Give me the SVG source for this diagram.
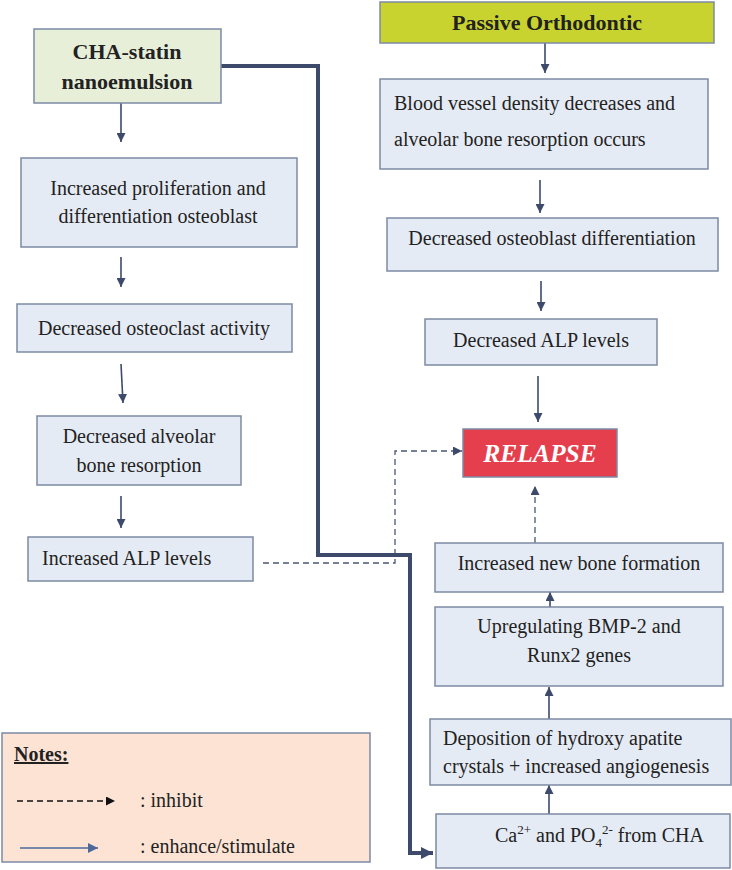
<svg xmlns="http://www.w3.org/2000/svg" width="732" height="870" viewBox="0 0 732 870">
<style>
.box{fill:#e5ebf4;stroke:#7d8aa5;stroke-width:1.5}
text{font-family:'Liberation Serif','Times New Roman',Tinos,'DejaVu Serif',serif;font-size:20px;fill:#222}
text.h{font-size:22px}
text.rel{font-size:25.5px;font-style:italic;fill:#fff}
.b{font-weight:bold}
.c{text-anchor:middle}
.s{font-size:13px}
.ar{fill:none;stroke:#3d4a6b;stroke-width:1.6}
.dash{fill:none;stroke:#4a5676;stroke-width:1.3;stroke-dasharray:6,4}
</style>
<defs>
<marker id="ah" viewBox="0 0 10 10" refX="10" refY="5" markerWidth="9" markerHeight="9" markerUnits="userSpaceOnUse" orient="auto">
<path d="M0,0 L10,5 L0,10 z" fill="#3d4a6b"/>
</marker>
<marker id="ahB" viewBox="0 0 10 10" refX="10" refY="5" markerWidth="12" markerHeight="12" markerUnits="userSpaceOnUse" orient="auto">
<path d="M0,0 L10,5 L0,10 z" fill="#3d4a6b"/>
</marker>
<marker id="ahK" viewBox="0 0 10 10" refX="10" refY="5" markerWidth="9" markerHeight="9" markerUnits="userSpaceOnUse" orient="auto">
<path d="M0,0 L10,5 L0,10 z" fill="#111"/>
</marker>
<marker id="ahL" viewBox="0 0 10 10" refX="10" refY="5" markerWidth="10" markerHeight="10" markerUnits="userSpaceOnUse" orient="auto">
<path d="M0,0 L10,5 L0,10 z" fill="#4d6a9c"/>
</marker>
</defs>
<rect width="732" height="870" fill="#fff"/>

<g id="connectors">
<path class="ar" d="M121,103 V142" marker-end="url(#ah)"/>
<path class="ar" d="M121,257 V287" marker-end="url(#ah)"/>
<path class="ar" d="M121,364 L123,403" marker-end="url(#ah)"/>
<path class="ar" d="M121,496 V528" marker-end="url(#ah)"/>
<path class="ar" d="M545,43 V73" marker-end="url(#ah)"/>
<path class="ar" d="M540,180 V213" marker-end="url(#ah)"/>
<path class="ar" d="M541,281 V311" marker-end="url(#ah)"/>
<path class="ar" d="M538,376 V422" marker-end="url(#ah)"/>
<path class="ar" d="M550,607 V592" marker-end="url(#ah)"/>
<path class="ar" d="M549,719 V687" marker-end="url(#ah)"/>
<path class="ar" d="M549,814 V785" marker-end="url(#ah)"/>
<path class="dash" d="M263,563 H395 V451 H462" marker-end="url(#ah)"/>
<path class="dash" d="M535,543 V486" marker-end="url(#ah)"/>
<path fill="none" stroke="#3d4a6b" stroke-width="4" d="M221,66 H318 V555 H410 V853 H433" marker-end="url(#ahB)"/>
</g>

<g id="cha">
<rect x="34" y="29" width="187" height="74" fill="#e7efd9" stroke="#7d8aa5" stroke-width="1.5"/>
<text class="h b c" x="127" y="59">CHA-statin</text>
<text class="h b c" x="127" y="89">nanoemulsion</text>
</g>
<g id="prolif">
<rect class="box" x="21" y="158" width="276" height="89"/>
<text class="c" x="158" y="195">Increased proliferation and</text>
<text class="c" x="158" y="223">differentiation osteoblast</text>
</g>
<g id="osteoclast">
<rect class="box" x="17" y="304" width="275" height="48"/>
<text class="c" x="154" y="335">Decreased osteoclast activity</text>
</g>
<g id="resorption">
<rect class="box" x="37" y="416" width="204" height="69"/>
<text class="c" x="139" y="443">Decreased alveolar</text>
<text class="c" x="139" y="472">bone resorption</text>
</g>
<g id="incALP">
<rect class="box" x="28" y="537" width="225" height="44"/>
<text x="42" y="565">Increased ALP levels</text>
</g>

<g id="passive">
<rect x="380" y="2" width="334" height="41" fill="#c8d32f" stroke="#7d8aa5" stroke-width="1.5"/>
<text class="h b c" x="547" y="30">Passive Orthodontic</text>
</g>
<g id="blood">
<rect class="box" x="380" y="79" width="328" height="90"/>
<text x="394" y="110">Blood vessel density decreases and</text>
<text x="394" y="146">alveolar bone resorption occurs</text>
</g>
<g id="decOsteo">
<rect class="box" x="387" y="218" width="331" height="53"/>
<text class="c" x="552" y="245">Decreased osteoblast differentiation</text>
</g>
<g id="decALP">
<rect class="box" x="425" y="319" width="232" height="46"/>
<text class="c" x="541" y="347">Decreased ALP levels</text>
</g>
<g id="relapse">
<rect x="463" y="429" width="154" height="48" fill="#e53e4c" stroke="#7d8aa5" stroke-width="1.5"/>
<text class="rel b c" x="540" y="462">RELAPSE</text>
</g>
<g id="newbone">
<rect class="box" x="435" y="543" width="288" height="49"/>
<text class="c" x="579" y="570">Increased new bone formation</text>
</g>
<g id="bmp">
<rect class="box" x="435" y="607" width="288" height="79"/>
<text class="c" x="579" y="633">Upregulating BMP-2 and</text>
<text class="c" x="579" y="662">Runx2 genes</text>
</g>
<g id="deposition">
<rect class="box" x="430" y="719" width="301" height="66"/>
<text x="443" y="745">Deposition of hydroxy apatite</text>
<text x="443" y="773">crystals + increased angiogenesis</text>
</g>
<g id="ca">
<rect class="box" x="436" y="814" width="294" height="54"/>
<text x="495" y="842">Ca<tspan class="s" dy="-8">2+</tspan><tspan dy="8"> and PO</tspan><tspan class="s" dy="5">4</tspan><tspan class="s" dy="-13">2-</tspan><tspan dy="8"> from CHA</tspan></text>
</g>

<g id="notes">
<rect x="2" y="733" width="368" height="129" fill="#fce3d4" stroke="#7d8aa5" stroke-width="1.5"/>
<text class="b" x="14" y="761" text-decoration="underline">Notes:</text>
<path d="M17,801 H115" fill="none" stroke="#111" stroke-width="1.5" stroke-dasharray="6,4" marker-end="url(#ahK)"/>
<text x="140" y="807">: inhibit</text>
<path d="M20,848 H98" fill="none" stroke="#4d6a9c" stroke-width="1.5" marker-end="url(#ahL)"/>
<text x="140" y="853">: enhance/stimulate</text>
</g>
</svg>
